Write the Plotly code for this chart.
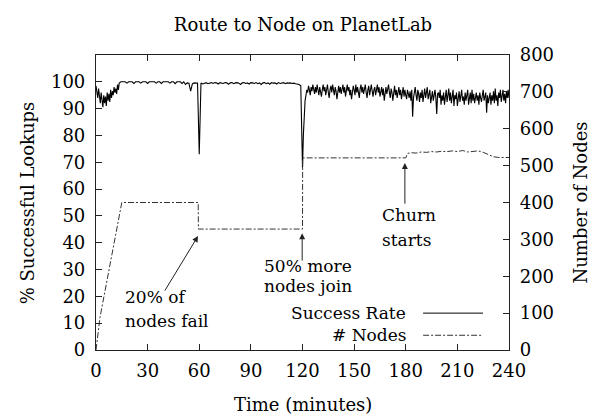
import plotly.graph_objects as go

# ---------------- data ----------------
t_early = [i * 0.5 for i in range(31)]          # 0 .. 15 (half-minute samples)
t_mid = list(range(16, 120))                     # 16 .. 119
t_late = [120 + i * 0.5 for i in range(241)]     # 120 .. 240 (half-minute)
minutes = t_early + t_mid + t_late

sr_early = [98.5, 96, 94, 97.5, 95, 92, 96, 93.5, 90.5, 95, 92, 94.5, 91, 96,
            93, 95.5, 92.5, 97, 94, 96.5, 95, 98, 96, 97.5, 95.5, 99, 97, 99.5,
            100, 100, 100]

sr_mid = [
    # 16-59
    100, 100, 99.5, 100, 100, 100, 99.4, 100, 100, 100, 99.5, 100, 100, 100,
    99.4, 100, 100, 100, 100, 99.5, 100, 100, 99.4, 100, 100, 100, 100, 99.5,
    100, 100, 99.3, 100, 100, 100, 99.4, 100, 99, 99.6, 99.5, 96.5, 99.2, 99.6,
    99.5, 99.5,
    # 60
    73,
    # 61-119
    99.6, 99.2, 99.6, 99.7, 99.3, 99.6, 99.7, 99.4, 99.7, 99.6, 99.2, 99.7,
    99.6, 99.4, 99.7, 99.6, 99.1, 99.6, 99.7, 99.3, 99.6, 99.7, 99.5, 99.0,
    99.6, 99.7, 99.4, 99.6, 99.2, 99.7, 99.6, 99.4, 99.7, 99.3, 99.6, 99.0,
    99.6, 99.7, 99.3, 99.6, 99.1, 99.7, 99.5, 99.6, 99.2, 99.7, 99.4, 99.6,
    99.7, 99.3, 99.6, 99.5, 99.6, 99.4, 99.5, 99.3, 99.2, 99.0, 98.5,
]

sr_late = [
    68, 80, 90, 93,                                              # 120-121.5
    95, 97, 96, 98.5, 97, 95, 98, 96.5, 99, 97, 95.5, 98, 96, 99, 97.5, 95, 98, 96, 94.5, 97,
    99, 96.5, 98, 95, 97.5, 99, 96, 94, 97, 98.5, 96, 99, 97, 95, 98, 96.5, 93.5, 97, 98.5, 96,
    98, 95.5, 97, 99, 96, 98, 94.5, 97, 99, 96.5, 98, 95, 97, 93.5, 96, 98.5, 97, 95, 99, 96,
    98, 96, 94, 97.5, 99, 96, 98, 95.5, 97, 99, 96, 94, 97, 98.5, 95, 97, 99, 96.5, 94.5, 97,
    98, 95, 97.5, 99, 96, 98, 94.5, 96, 98, 95, 97.5, 93, 96, 98, 95.5, 97, 99, 96, 94, 97.5,
    96, 93, 97, 98.5, 95, 97, 94, 96.5, 98, 95, 97, 93.5, 96, 98, 94.5, 97, 95, 93.5, 97, 95.5,
    94, 96.5, 93, 97, 87, 94, 96, 98, 95, 93, 97, 95.5, 92.5, 96, 94, 97, 92.5, 95, 97.5, 94,
    96, 98, 93.5, 95, 97, 92, 94.5, 96.5, 93, 95, 97, 94, 88, 95.5, 96, 94, 97, 91.5, 95, 93,
    96, 91.5, 94.5, 97, 92.5, 95, 97.5, 93, 96, 92, 94.5, 97, 91, 95, 93.5, 96, 91, 94, 96.5, 92.5,
    95, 97, 93, 94.5, 91.5, 96, 93, 95.5, 97, 91.5, 94, 96, 92, 97, 93, 95.5, 92, 94.5, 96, 93,
    95, 91.5, 96, 94, 92.5, 95, 97, 93, 95.5, 96, 88.5, 95, 92, 94.5, 96, 91.5, 95, 93, 96.5, 92,
    97.5, 93, 95, 91, 96, 94, 97, 92.5, 95, 97, 93, 95.5, 92, 96.5, 94, 97, 94,
]
success_rate = sr_early + sr_mid + sr_late

node_minutes = [0, 2.3, 15, 59.4, 59.5, 120.0, 120.1, 180, 181, 183, 186,
                189, 192, 195, 198, 201, 204, 207, 210, 213, 216, 219, 222,
                225, 228, 231, 234, 240]
node_count = [0, 88, 400, 400, 328, 328, 521, 521, 533, 535, 534, 537, 536,
              538, 537, 539, 538, 540, 538, 541, 537, 539, 540, 536, 531, 524,
              522, 522]

x_ticks = [0, 30, 60, 90, 120, 150, 180, 210, 240]
y_ticks = [0, 10, 20, 30, 40, 50, 60, 70, 80, 90, 100]
y2_ticks = [0, 100, 200, 300, 400, 500, 600, 700, 800]

FONT = "DejaVu Serif"
FS = 18
FS_LABEL = 17

fig = go.Figure()
fig.add_trace(go.Scatter(x=minutes, y=success_rate, mode="lines",
                         line=dict(color="black", width=1.1),
                         name="Success Rate", showlegend=False))
fig.add_trace(go.Scatter(x=node_minutes, y=node_count, mode="lines",
                         line=dict(color="#333333", width=1,
                                   dash="6px,2px,2px,2px"),
                         name="# Nodes", yaxis="y2", showlegend=False))

# legend drawn gnuplot style (text then sample on the right)
legend_items = [("Success Rate", "solid", "black", 0.125),
                ("# Nodes", "6px,2px,2px,2px", "#333333", 0.05)]
for label, dash, col, yp in legend_items:
    fig.add_annotation(x=0.755, y=yp, xref="paper", yref="paper",
                       text=label, showarrow=False, xanchor="right",
                       yanchor="middle",
                       font=dict(family=FONT, size=FS_LABEL, color="black"))
    fig.add_shape(type="line", xref="paper", yref="paper",
                  x0=0.792, x1=0.937, y0=yp, y1=yp,
                  line=dict(color=col, width=1, dash=dash))

# text labels
labels = [("20% of", 15.7, 19.8), ("nodes fail", 15.7, 10.8),
          ("50% more", 96.5, 31.5), ("nodes join", 96.5, 24.0),
          ("Churn", 165, 50.3), ("starts", 165, 41.0)]
for txt, xx, yy in labels:
    fig.add_annotation(x=xx, y=yy, text=txt, showarrow=False, xanchor="left",
                       yanchor="middle",
                       font=dict(family=FONT, size=FS_LABEL, color="black"))

arrows = [((39.5, 21.6), (59.3, 42.5)),
          ((119.8, 32.8), (119.8, 43.5)),
          ((179.5, 54.0), (179.5, 69.7))]
for (tx, ty), (hx, hy) in arrows:
    fig.add_annotation(x=hx, y=hy, ax=tx, ay=ty, xref="x", yref="y",
                       axref="x", ayref="y", text="", showarrow=True,
                       arrowhead=2, arrowsize=1.2, arrowwidth=1,
                       arrowcolor="#222222")

# axis titles
fig.add_annotation(x=-0.165, y=0.5, xref="paper", yref="paper",
                   xanchor="center", yanchor="middle",
                   text="% Successful Lookups", textangle=-90, showarrow=False,
                   font=dict(family=FONT, size=FS, color="black"))
fig.add_annotation(x=1.172, y=0.5, xref="paper", yref="paper",
                   xanchor="center", yanchor="middle",
                   text="Number of Nodes", textangle=-90, showarrow=False,
                   font=dict(family=FONT, size=FS, color="black"))
fig.add_annotation(x=0.5, y=-0.186, xref="paper", yref="paper",
                   xanchor="center", yanchor="middle",
                   text="Time (minutes)", showarrow=False,
                   font=dict(family=FONT, size=FS, color="black"))

axis_common = dict(showgrid=False, zeroline=False, showline=True,
                   linecolor="#222222", linewidth=1.2, ticks="inside",
                   ticklen=6, tickcolor="#222222", tickwidth=1,
                   automargin=False,
                   tickfont=dict(family=FONT, size=FS, color="black"))

# the page body adds an 8px offset, so the figure is sized to fit the window
fig.update_layout(
    width=590, height=409,
    margin=dict(l=88, r=89, t=47, b=67),
    paper_bgcolor="white", plot_bgcolor="white",
    title=dict(text="Route to Node on PlanetLab", x=0.5, xanchor="center",
               y=1 - 17 / 409, yanchor="middle",
               font=dict(family=FONT, size=FS, color="black")),
    xaxis=dict(range=[0, 240], tickvals=x_ticks, mirror="ticks",
               ticklabelstandoff=4, **axis_common),
    yaxis=dict(range=[0, 110], tickvals=y_ticks, ticklabelstandoff=6,
               **axis_common),
    yaxis2=dict(range=[0, 800], tickvals=y2_ticks, overlaying="y",
                side="right", ticklabelstandoff=6, **axis_common),
    showlegend=False,
)

fig.write_html("out.html")
